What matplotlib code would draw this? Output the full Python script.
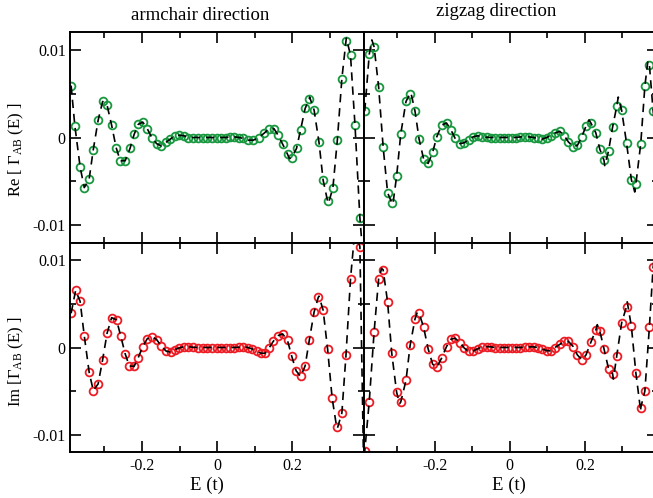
import numpy as np
import matplotlib
matplotlib.use("Agg")
import matplotlib.pyplot as plt
from matplotlib.ticker import MultipleLocator, FuncFormatter

plt.rcParams['font.family'] = ['Liberation Serif', 'DejaVu Serif']
plt.rcParams['mathtext.fontset'] = 'custom'
plt.rcParams['mathtext.rm'] = 'Liberation Serif'
plt.rcParams['mathtext.it'] = 'Liberation Serif:italic'
plt.rcParams['axes.unicode_minus'] = False

# energy grids (units of t), read per panel
e_arm_re = [-0.389, -0.379, -0.365, -0.354, -0.341, -0.330, -0.317, -0.305, -0.293, -0.281,
            -0.269, -0.258, -0.245, -0.232, -0.221, -0.210, -0.198, -0.186, -0.174, -0.161,
            -0.149, -0.136, -0.125, -0.112, -0.101, -0.088, -0.077, -0.063, -0.051, -0.038,
            -0.026, -0.013, -0.001, 0.011, 0.023, 0.035, 0.046, 0.059, 0.070, 0.083,
            0.097, 0.111, 0.126, 0.139, 0.152, 0.163, 0.175, 0.188, 0.199, 0.212,
            0.223, 0.235, 0.246, 0.259, 0.272, 0.283, 0.295, 0.309, 0.321, 0.333,
            0.344, 0.356, 0.368, 0.381]
e_arm_im = [-0.389, -0.377, -0.365, -0.354, -0.341, -0.330, -0.317, -0.305, -0.293, -0.281,
            -0.268, -0.257, -0.245, -0.234, -0.221, -0.210, -0.198, -0.186, -0.174, -0.161,
            -0.149, -0.136, -0.123, -0.112, -0.101, -0.088, -0.077, -0.063, -0.051, -0.038,
            -0.026, -0.013, -0.001, 0.011, 0.023, 0.035, 0.046, 0.059, 0.070, 0.082,
            0.093, 0.106, 0.117, 0.128, 0.139, 0.150, 0.163, 0.175, 0.188, 0.199,
            0.211, 0.223, 0.235, 0.246, 0.259, 0.270, 0.283, 0.295, 0.307, 0.319,
            0.333, 0.344, 0.356, 0.368, 0.381]
e_zz = [-0.387, -0.375, -0.362, -0.350, -0.338, -0.326, -0.315, -0.302, -0.291, -0.277,
        -0.266, -0.253, -0.242, -0.230, -0.218, -0.206, -0.195, -0.182, -0.169, -0.157,
        -0.146, -0.133, -0.122, -0.110, -0.098, -0.086, -0.075, -0.062, -0.051, -0.039,
        -0.027, -0.015, -0.005, 0.005, 0.016, 0.028, 0.040, 0.051, 0.063, 0.074,
        0.085, 0.098, 0.109, 0.120, 0.133, 0.145, 0.156, 0.169, 0.180, 0.192,
        0.203, 0.216, 0.229, 0.240, 0.251, 0.263, 0.274, 0.285, 0.298, 0.311,
        0.324, 0.336, 0.349, 0.360, 0.372, 0.382]

# values in units of 1e-3
re_arm = [5.9, 1.3, -3.35, -5.7, -4.75, -1.4, 1.95, 4.1, 3.65, 1.4,
          -1.15, -2.65, -2.65, -1.25, 0.35, 1.5, 1.75, 1.0, 0.0, -0.7,
          -0.95, -0.55, -0.2, 0.2, 0.25, 0.2, 0.0, 0.0, 0.0, 0.0,
          0.0, 0.0, 0.0, 0.0, 0.0, 0.07, 0.07, 0.0, -0.1, -0.3,
          -0.3, 0.0, 0.5, 1.0, 1.0, 0.25, -0.75, -1.9, -2.3, -1.25,
          0.9, 3.3, 4.4, 3.1, -0.55, -4.85, -7.25, -5.75, -0.25, 6.7,
          11.0, 9.35, 1.4, -9.1]
im_arm = [3.9, 6.5, 5.25, 1.35, -2.8, -4.9, -4.15, -1.4, 1.65, 3.4,
          3.15, 1.35, -0.7, -2.1, -2.15, -1.15, 0.1, 1.0, 1.25, 0.9,
          0.2, -0.4, -0.55, -0.25, -0.05, 0.1, 0.1, 0.02, 0.0, 0.0,
          0.0, 0.0, 0.0, 0.0, 0.0, 0.0, 0.0, 0.03, 0.1, 0.0,
          -0.15, -0.4, -0.65, -0.65, -0.05, 0.7, 1.35, 1.55, 0.8, -0.95,
          -2.65, -3.3, -2.1, 0.8, 4.05, 5.7, 4.25, -0.2, -5.75, -9.05,
          -7.45, -0.85, 7.8, 13.5, 11.5]
re_zz = [3.0, 9.45, 10.3, 5.75, -1.05, -6.3, -7.4, -4.4, 0.4, 4.1,
         5.0, 3.0, -0.2, -2.45, -2.95, -1.7, 0.07, 1.4, 1.65, 0.85,
         -0.1, -0.7, -0.6, -0.25, 0.07, 0.2, 0.1, 0.03, 0.0, 0.0,
         0.0, 0.0, 0.0, 0.0, 0.0, 0.07, 0.07, 0.07, 0.0, -0.1,
         -0.2, 0.0, 0.2, 0.5, 0.7, 0.2, -0.5, -1.05, -0.9, 0.1,
         1.3, 1.65, 0.55, -1.35, -2.6, -1.55, 1.2, 3.55, 3.1, -0.6,
         -4.8, -5.3, -0.7, 5.85, 8.3, 3.0]
im_zz = [-11.8, -6.15, 1.8, 7.8, 8.85, 5.15, -0.65, -5.1, -6.2, -3.75,
         0.25, 3.25, 3.9, 2.3, -0.15, -1.9, -2.25, -1.2, 0.1, 0.95,
         1.05, 0.55, -0.05, -0.45, -0.4, -0.15, 0.07, 0.1, 0.07, 0.0,
         0.0, 0.0, 0.0, 0.0, 0.0, 0.0, 0.05, 0.07, 0.07, 0.0,
         -0.15, -0.35, -0.4, 0.0, 0.35, 0.7, 0.7, 0.1, -0.85, -1.4,
         -0.85, 0.6, 1.95, 1.85, -0.15, -2.4, -3.0, -0.95, 2.8, 4.65,
         2.4, -2.9, -6.85, -4.95, 2.3, 9.15]

# extra vertices of the dashed (analytic) curves: (E, value*1e3)
re_arm_peaks = [(0.193, -2.4), (0.247, 4.6), (0.297, -7.5), (0.345, 11.3), (0.389, -13.5)]
im_arm_peaks = [(0.272, 5.85), (0.321, -9.2), (0.391, -13.5)]
re_zz_peaks = [(-0.368, 11.1), (-0.312, -7.6), (-0.264, 5.1), (0.211, 2.0), (0.253, -3.2),
               (0.289, 4.6), (0.333, -6.2), (0.368, 8.7), (0.396, -2.0)]
im_zz_peaks = [(-0.391, -14.0), (-0.342, 9.0), (-0.294, -6.4), (-0.247, 4.0), (0.233, 2.6),
               (0.276, -3.6), (0.313, 5.2), (0.349, -7.3), (0.396, 14.0)]

green = '#18973f'
red = '#ec1c24'

W, H = 653, 498
fig = plt.figure(figsize=(W / 100, H / 100), dpi=100)

def box(x0, x1, y0, y1):
    return [x0 / W, 1 - y1 / H, (x1 - x0) / W, (y1 - y0) / H]

ax_tl = fig.add_axes(box(70, 364, 32, 243))
ax_tr = fig.add_axes(box(364, 658, 32, 243))
ax_bl = fig.add_axes(box(70, 364, 243, 452))
ax_br = fig.add_axes(box(364, 658, 243, 452))

def fmt(v, pos):
    if abs(v) < 1e-12:
        return '0'
    return ('%g' % round(v, 4))

def draw(ax, e, vals, peaks, color):
    v = [x * 1e-3 for x in vals]
    pts = sorted(list(zip(e, v)) + [(p, q * 1e-3) for p, q in peaks])
    lx, ly = zip(*pts)
    ax.plot(e, v, 'o', ms=5.6, mfc='none', mec=color, mew=1.3, zorder=2)
    ax.plot(lx, ly, color='black', lw=1.2, dashes=(5, 3.5), zorder=3)

draw(ax_tl, e_arm_re, re_arm, re_arm_peaks, green)
draw(ax_tr, e_zz, re_zz, re_zz_peaks, green)
draw(ax_bl, e_arm_im, im_arm, im_arm_peaks, red)
draw(ax_br, e_zz, im_zz, im_zz_peaks, red)

for ax in (ax_tl, ax_tr, ax_bl, ax_br):
    ax.xaxis.set_major_locator(MultipleLocator(0.2))
    ax.xaxis.set_minor_locator(MultipleLocator(0.1))
    ax.yaxis.set_major_locator(MultipleLocator(0.01))
    ax.yaxis.set_minor_locator(MultipleLocator(0.005))
    ax.tick_params(which='both', direction='in', top=True, right=True, width=1.2,
                   labelsize=11.5, pad=4)
    ax.tick_params(which='major', length=8)
    ax.tick_params(which='minor', length=4)
    ax.xaxis.set_major_formatter(FuncFormatter(fmt))
    ax.yaxis.set_major_formatter(FuncFormatter(fmt))
    for s in ax.spines.values():
        s.set_linewidth(1.4)

ax_tl.set_xlim(-0.392, 0.392)
ax_bl.set_xlim(-0.392, 0.392)
ax_tr.set_xlim(-0.389, 0.395)
ax_br.set_xlim(-0.389, 0.395)
ax_tl.set_ylim(-0.0120, 0.0120)
ax_tr.set_ylim(-0.0120, 0.0120)
ax_bl.set_ylim(-0.0119, 0.0119)
ax_br.set_ylim(-0.0119, 0.0119)

for ax in (ax_tl, ax_tr):
    ax.tick_params(labelbottom=False)
for ax in (ax_tr, ax_br):
    ax.tick_params(labelleft=False)
ax_tl.tick_params(axis='y', pad=3)
ax_bl.tick_params(axis='y', pad=3)

fig.text(200 / W, 1 - 16 / H, 'armchair direction', ha='center', va='center', fontsize=13.5)
fig.text(496 / W, 1 - 11 / H, 'zigzag direction', ha='center', va='center', fontsize=13.5)
fig.text(207 / W, 1 - 485 / H, 'E (t)', ha='center', va='center', fontsize=13.5)
fig.text(509 / W, 1 - 485 / H, 'E (t)', ha='center', va='center', fontsize=13.5)
fig.text(16 / W, 1 - 150 / H, r'Re [ $\Gamma_{\mathrm{AB}}$ (E) ]', rotation=90,
         ha='center', va='center', fontsize=12)
fig.text(16 / W, 1 - 362 / H, r'Im [$\Gamma_{\mathrm{AB}}$ (E) ]', rotation=90,
         ha='center', va='center', fontsize=12)

fig.savefig('out.png', dpi=100)
